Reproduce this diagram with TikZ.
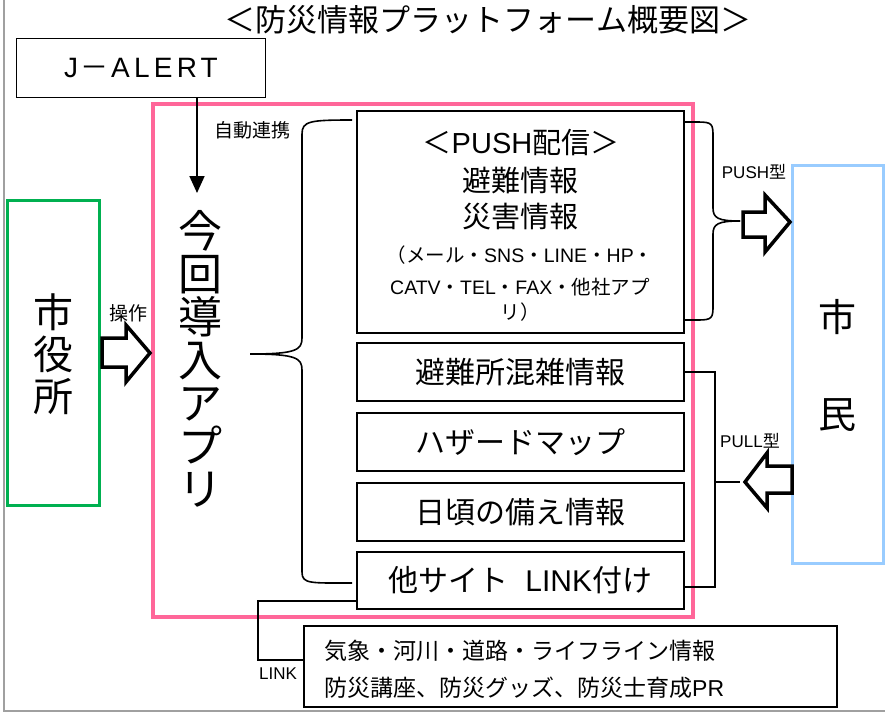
\documentclass[tikz,border=0pt]{standalone}
\usepackage{fontspec}
\setmainfont{Noto Sans CJK JP}
\newfontfamily\lat{Liberation Sans}
\newfontfamily\latsp[LetterSpace=15]{Liberation Sans}
\usetikzlibrary{arrows.meta,calc}
\definecolor{pinkline}{RGB}{255,102,153}
\definecolor{greenline}{RGB}{0,176,80}
\definecolor{blueline}{RGB}{153,204,255}
\definecolor{frameline}{RGB}{160,160,160}
\begin{document}
\begin{tikzpicture}[x=1pt,y=-1pt,
  box/.style={draw=black,line width=1.6pt,fill=white,inner sep=0pt},
  lbl/.style={inner sep=0pt},
  hollow/.style={draw=black,line width=3.5pt,fill=white,line join=miter,miter limit=10},
  conn/.style={draw=black,line width=1.6pt},
  fs/.style={font=\fontsize{#1}{#1}\selectfont}
]
\useasboundingbox (0,0) rectangle (885,713);
% page frame lines
\draw[frameline,line width=1.5pt] (4,0) -- (4,711) -- (885,711);

% title
\node[lbl,fs=31] (title) at (488,20) {＜防災情報プラットフォーム概要図＞};

% J-ALERT
\node[box,minimum width=249pt,minimum height=59pt,fs=28] (jalert) at (141,68) {{\latsp J}\kern2pt－\kern3pt{\latsp ALERT}};

% pink app frame
\node[draw=pinkline,line width=3.5pt,minimum width=540pt,minimum height=513pt,inner sep=0pt] (appframe) at (423,360.5) {};

% app text
\node[lbl,align=center,font=\fontsize{44}{43}\selectfont] (apptext) at (200,359) {今\\回\\導\\入\\ア\\プ\\リ};

% J-ALERT arrow
\coordinate (arrowtip) at (197,193);
\draw[conn,line width=1.8pt,-{Triangle[width=15pt,length=17pt]}] (jalert.south -| arrowtip) -- (arrowtip);
\node[lbl,fs=19] (jidou) at (252,130) {自動連携};

% right column boxes
\node[box,minimum width=327pt,minimum height=222pt] (push) at (520.5,222) {};
\node[lbl,fs=29] (pushl1) at (521,143) {＜{\lat PUSH}配信＞};
\node[lbl,fs=29] (pushl2) at (520,181) {避難情報};
\node[lbl,fs=29] (pushl3) at (520,217) {災害情報};
\node[lbl,fs=19.5] (pushl4) at (520,255) {（メール・{\lat SNS}・{\lat LINE}・{\lat HP}・};
\node[lbl,fs=19.5] (pushl5) at (520,287) {{\lat CATV}・{\lat TEL}・{\lat FAX}・他社アプ};
\node[lbl,fs=19.5] (pushl6) at (520,312) {リ）};

\node[box,minimum width=327pt,minimum height=58pt,fs=30] (hinanjo) at (520.5,372) {避難所混雑情報};
\node[box,minimum width=327pt,minimum height=58pt,fs=30] (hazard) at (520.5,442) {ハザードマップ};
\node[box,minimum width=327pt,minimum height=58pt,fs=30] (sonae) at (520.5,512) {日頃の備え情報};
\node[box,minimum width=327pt,minimum height=57pt,fs=30] (tasite) at (520.5,580.5) {他サイト\hspace{0.55em}{\lat LINK}付け};

% left brace
\coordinate (lbtip) at (250,354);
\draw[conn] (352,120) .. controls (310,120) and (302,121) .. (302,134) -- (302,338)
  .. controls (302,350) and (296,354) .. (lbtip);
\draw[conn] (lbtip) .. controls (296,354) and (302,358) .. (302,370) -- (302,572)
  .. controls (302,584) and (310,583) .. (352,583);

% shi-yakusho
\node[draw=greenline,line width=3pt,minimum width=92pt,minimum height=305pt,inner sep=0pt] (shiyaku) at (53,352.5) {};
\node[lbl,align=center,font=\fontsize{40}{42}\selectfont] (shiyakutext) at (53,354) {市\\役\\所};
\node[lbl,fs=19] (sousa) at (128,313) {操作};
\draw[hollow] (102,338) -- (126,338) -- (126,325) -- (150,353) -- (126,382) -- (126,367) -- (102,367) -- cycle;

% shimin
\node[draw=blueline,line width=3pt,minimum width=91pt,minimum height=398pt,inner sep=0pt] (shimin) at (838,364.5) {};
\node[lbl,fs=38] (shi) at (837,317) {市};
\node[lbl,fs=38] (min) at (837,415) {民};

% right brace (PUSH)
\coordinate (rbtip) at (740,221);
\draw[conn] (684,122) -- (698,122) .. controls (712,122) and (713,124) .. (713,136) -- (713,208)
  .. controls (713,218) and (718,221) .. (rbtip);
\draw[conn] (rbtip) .. controls (718,221) and (713,224) .. (713,234) -- (713,306)
  .. controls (713,318) and (712,320) .. (698,320) -- (684,320);
\node[lbl,fs=17] (pushtype) at (754,172) {{\lat PUSH}型};
\draw[hollow] (743,212) -- (765,212) -- (765,195) -- (790,222) -- (765,252) -- (765,237) -- (743,237) -- cycle;

% pull bracket
\coordinate (pulltip) at (740,482);
\draw[conn] (hinanjo.east) -- (715,372) -- (715,587) -- (684,587);
\draw[conn] (715,482) -- (pulltip);
\node[lbl,fs=17] (pulltype) at (750,441) {{\lat PULL}型};
\draw[hollow] (792,466) -- (767,466) -- (767,453) -- (745,482) -- (767,508) -- (767,493) -- (792,493) -- cycle;

% LINK box
\node[box,minimum width=533pt,minimum height=81pt] (linkbox) at (570.5,666.5) {};
\node[lbl,anchor=west,fs=23] (linkl1) at (324,651) {気象・河川・道路・ライフライン情報};
\node[lbl,anchor=west,fs=23] (linkl2) at (324,688) {防災講座、防災グッズ、防災士育成{\lat PR}};
\coordinate (lk1) at (258,601);
\coordinate (lk2) at (258,660);
\draw[conn,line width=1.4pt] (tasite.west |- lk1) -- (lk1) -- (lk2) -- (linkbox.west |- lk2);
\node[lbl,fs=17] (linklbl) at (278,674) {\lat LINK};
\end{tikzpicture}
\end{document}
